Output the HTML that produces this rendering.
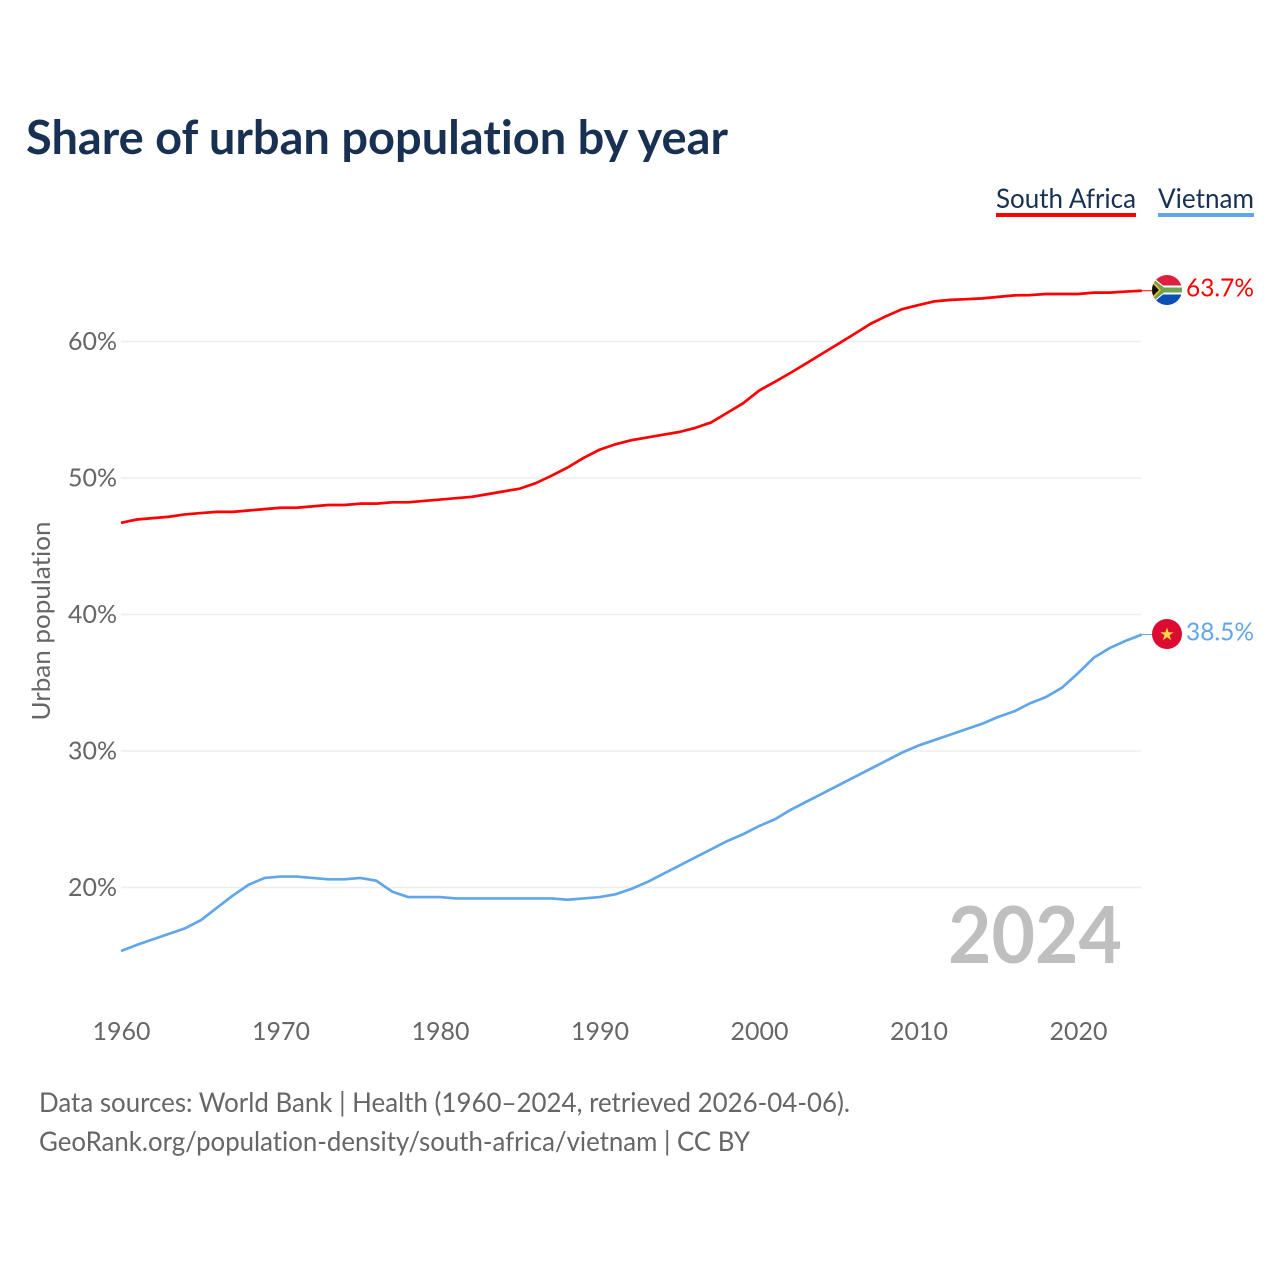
<!DOCTYPE html>
<html lang="en">
<head>
<meta charset="utf-8">
<title>Share of urban population by year</title>
<style>
html,body{margin:0;padding:0;background:#fff;width:1280px;height:1280px;overflow:hidden}
svg{display:block}
text{font-family:"Lato","Carlito","Liberation Sans",sans-serif;font-variant-ligatures:none}
</style>
</head>
<body>
<svg id="chart" xmlns="http://www.w3.org/2000/svg" width="1280" height="1280" viewBox="0 0 1280 1280">
  <defs>
    <clipPath id="clip-sa"><circle cx="1167" cy="290" r="15"/></clipPath>
    <clipPath id="clip-vn"><circle cx="1167" cy="634" r="15"/></clipPath>
  </defs>
  <rect width="1280" height="1280" fill="#fff"/>
  <text x="26" y="154" font-size="47" font-weight="700" fill="#183153" textLength="702" lengthAdjust="spacingAndGlyphs">Share of urban population by year</text>

  <g>
    <g>
      <text x="996" y="208" font-size="27" fill="#183153" textLength="140" lengthAdjust="spacingAndGlyphs">South Africa</text>
      <rect x="996" y="213" width="140" height="4" fill="#ff0000"/>
    </g>
    <g>
      <text x="1158" y="208" font-size="27" fill="#183153" textLength="96" lengthAdjust="spacingAndGlyphs">Vietnam</text>
      <rect x="1158" y="213" width="96" height="4" fill="#62a6ea"/>
    </g>
  </g>

  <g id="grid"></g>
  <g id="yticks"></g>
  <g id="xticks"></g>
  <text transform="translate(50,621) rotate(-90)" text-anchor="middle" font-size="25" fill="#666" textLength="199" lengthAdjust="spacingAndGlyphs">Urban population</text>
  <text x="948" y="963" font-size="79" font-weight="700" fill="#bfbfbf" textLength="174" lengthAdjust="spacingAndGlyphs">2024</text>
  <g id="series"></g>

  <g clip-path="url(#clip-sa)">
    <rect x="1152" y="275" width="30" height="15" fill="#de1f3f"/>
    <rect x="1152" y="290" width="30" height="15" fill="#0b4fb5"/>
    <path d="M1147 272L1163 285.5H1182V294.5H1163L1147 308Z" fill="#fff"/>
    <path d="M1147 274L1164 287.5H1182V292.5H1164L1147 306Z" fill="#6fa34f"/>
    <path d="M1151 279.5L1161 290L1151 300.5Z" fill="#f5c531"/>
    <path d="M1151 282L1159 290L1151 298Z" fill="#111"/>
  </g>
  <g clip-path="url(#clip-vn)">
    <rect x="1152" y="619" width="30" height="30" fill="#dc0b32"/>
    <path d="M1167 627.5L1168.6 632.3H1173.6L1169.6 635.3L1171.1 640.1L1167 637.2L1162.9 640.1L1164.4 635.3L1160.4 632.3H1165.4Z" fill="#fbd83c"/>
  </g>
  <g id="endlabels"></g>

  <text x="39" y="1112" font-size="27" fill="#666" textLength="811" lengthAdjust="spacingAndGlyphs">Data sources: World Bank | Health (1960–2024, retrieved 2026-04-06).</text>
  <text x="39" y="1151" font-size="27" fill="#666" textLength="711" lengthAdjust="spacingAndGlyphs">GeoRank.org/population-density/south-africa/vietnam | CC BY</text>
</svg>
<script>
var firstYear = 1960;
var southAfrica = [46.72,46.96,47.06,47.16,47.33,47.43,47.52,47.52,47.62,47.72,47.82,47.82,47.92,48.02,48.02,48.12,48.12,48.22,48.22,48.32,48.42,48.52,48.62,48.82,49.02,49.22,49.62,50.17,50.77,51.47,52.07,52.47,52.77,52.97,53.17,53.37,53.67,54.07,54.77,55.47,56.4,57.05,57.72,58.42,59.14,59.85,60.57,61.3,61.87,62.38,62.67,62.94,63.05,63.1,63.16,63.27,63.38,63.4,63.48,63.48,63.48,63.58,63.58,63.66,63.72];
var vietnam = [15.35,15.8,16.2,16.6,17.0,17.6,18.5,19.4,20.2,20.7,20.8,20.8,20.7,20.6,20.6,20.7,20.5,19.7,19.3,19.3,19.3,19.2,19.2,19.2,19.2,19.2,19.2,19.2,19.1,19.2,19.3,19.5,19.9,20.4,21.0,21.6,22.2,22.8,23.4,23.9,24.5,25.0,25.7,26.3,26.9,27.5,28.1,28.7,29.3,29.9,30.4,30.8,31.2,31.6,32.0,32.5,32.9,33.5,33.96,34.64,35.7,36.84,37.55,38.08,38.53];
var yTickValues = [20,30,40,50,60];
var xTickValues = [1960,1970,1980,1990,2000,2010,2020];

var NS = 'http://www.w3.org/2000/svg';
function xScale(year){ return 121 + (year - 1960) * 15.95; }
function yScale(v){ return 887.5 - (v - 20) * 13.65; }
function make(tag, attrs, parent, txt){
  var el = document.createElementNS(NS, tag);
  for (var k in attrs) el.setAttribute(k, attrs[k]);
  if (txt !== undefined) el.textContent = txt;
  parent.appendChild(el);
  return el;
}
var grid = document.getElementById('grid');
var yt = document.getElementById('yticks');
var xt = document.getElementById('xticks');
var seriesG = document.getElementById('series');
var endG = document.getElementById('endlabels');

yTickValues.forEach(function(v){
  var l = make('line', {x1:121, x2:1141, y1:yScale(v), y2:yScale(v), stroke:'#eeeeee', 'stroke-width':1.5}, grid);
  
  
  var t = make('text', {x:68, y:yScale(v)+8.5, 'font-size':25, fill:'#666', textLength:49, lengthAdjust:'spacingAndGlyphs'}, yt, v + '%');
  
  
});
xTickValues.forEach(function(y){
  var t = make('text', {x:xScale(y)-28.5, y:1040, 'font-size':25, fill:'#666', textLength:58, lengthAdjust:'spacingAndGlyphs'}, xt, String(y));
  
  
});

function drawSeries(values, color, key, labelWidth){
  var pts = values.map(function(v, i){ return xScale(firstYear + i).toFixed(2) + ',' + yScale(v).toFixed(2); });
  var line = make('polyline', {points:pts.join(' '), fill:'none', stroke:color, 'stroke-width':2.7, 'stroke-linejoin':'round'}, seriesG);
  
  
  var last = values[values.length - 1];
  var lastX = xScale(firstYear + values.length - 1);
  var lastY = yScale(last);
  var c = make('line', {x1:lastX, x2:1154, y1:lastY, y2:lastY, stroke:color, 'stroke-width':1}, seriesG);
  
  
  var t = make('text', {x:1186, y:lastY+6, 'font-size':25.5, fill:color, textLength:labelWidth, lengthAdjust:'spacingAndGlyphs'}, endG, last.toFixed(1) + '%');
  
  
}
drawSeries(southAfrica, '#ff0000', 'south-africa', 68);
drawSeries(vietnam, '#62a6ea', 'vietnam', 68);
</script>
</body>
</html>
